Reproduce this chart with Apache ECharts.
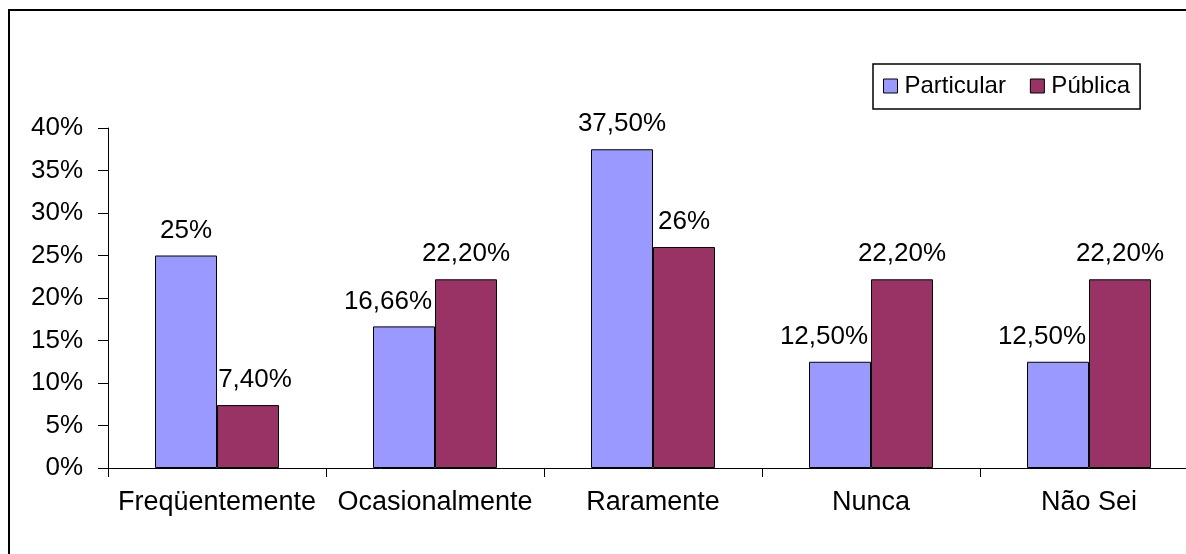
<!DOCTYPE html>
<html>
<head>
<meta charset="utf-8">
<script src="https://cdn.jsdelivr.net/npm/echarts@6/dist/echarts.min.js"></script>
<style>
  html, body { margin: 0; padding: 0; background: #fff; overflow: hidden; }
  /* the plot runs past the right edge of the window, so the canvas is wider than the view */
  #chart { width: 1210px; height: 554px; }
</style>
</head>
<body>
<div id="chart"></div>
<script>
// Categories and percentages per school type
const categories = ['Freqüentemente', 'Ocasionalmente', 'Raramente', 'Nunca', 'Não Sei'];
const particular = [25, 16.66, 37.5, 12.5, 12.5];
const publica = [7.4, 22.2, 26, 22.2, 22.2];
const yTicks = [0, 5, 10, 15, 20, 25, 30, 35, 40];

// Horizontal nudges for value labels that would otherwise collide
const particularLabelShift = [0, -16, 0, -16, -16];
const publicaLabelShift = [7, 0, 0, 0, 0];

const FONT = '"Liberation Sans", Arial, sans-serif';

function pct(v) {
  return Number.isInteger(v) ? v + '%' : v.toFixed(2).replace('.', ',') + '%';
}

function withShift(values, shifts) {
  return values.map((v, i) => ({ value: v, label: { offset: [shifts[i], 0] } }));
}

const chart = echarts.init(document.getElementById('chart'), null, { renderer: 'canvas' });

const labelStyle = {
  show: true,
  position: 'top',
  distance: 12,
  color: '#000',
  fontSize: 26,
  fontFamily: FONT,
  formatter: p => pct(p.value)
};

chart.setOption({
  animation: false,
  backgroundColor: '#fff',
  graphic: [{
    type: 'rect',
    shape: { x: 9, y: 10, width: 1230, height: 600 },
    style: { fill: 'none', stroke: '#000', lineWidth: 2 },
    silent: true,
    z: 0
  }],
  legend: {
    left: 873,
    top: 64,
    orient: 'horizontal',
    padding: [10, 10, 11, 10],
    itemGap: 24,
    itemWidth: 14,
    itemHeight: 14,
    borderColor: '#000',
    borderWidth: 1.5,
    backgroundColor: '#fff',
    icon: 'rect',
    itemStyle: { borderColor: '#000', borderWidth: 1 },
    textStyle: { fontSize: 24, fontFamily: FONT, color: '#000', padding: [0, 0, 0, 2] },
    data: ['Particular', 'Pública']
  },
  grid: {
    left: 108,
    top: 128,
    width: 1090,
    height: 340,
    containLabel: false
  },
  xAxis: {
    type: 'category',
    data: categories,
    axisLine: { lineStyle: { color: '#000', width: 1 } },
    axisTick: { show: true, interval: 0, length: 9, lineStyle: { color: '#000' } },
    axisLabel: { interval: 0, color: '#000', fontSize: 27, fontFamily: FONT, margin: 21 },
    splitLine: { show: false }
  },
  yAxis: {
    type: 'value',
    min: yTicks[0],
    max: yTicks[yTicks.length - 1],
    interval: yTicks[1] - yTicks[0],
    axisLine: { show: true, lineStyle: { color: '#000', width: 1 } },
    axisTick: { show: true, length: 10, lineStyle: { color: '#000' } },
    axisLabel: { color: '#000', fontSize: 26, fontFamily: FONT, margin: 25, formatter: v => v + '%' },
    splitLine: { show: false }
  },
  series: [
    {
      name: 'Particular',
      type: 'bar',
      barWidth: 62,
      barGap: '0%',
      data: withShift(particular, particularLabelShift),
      itemStyle: { color: '#9999FF', borderColor: '#000', borderWidth: 1 },
      label: labelStyle
    },
    {
      name: 'Pública',
      type: 'bar',
      barWidth: 62,
      barGap: '0%',
      data: withShift(publica, publicaLabelShift),
      itemStyle: { color: '#993366', borderColor: '#000', borderWidth: 1 },
      label: labelStyle
    }
  ]
});
</script>
</body>
</html>
